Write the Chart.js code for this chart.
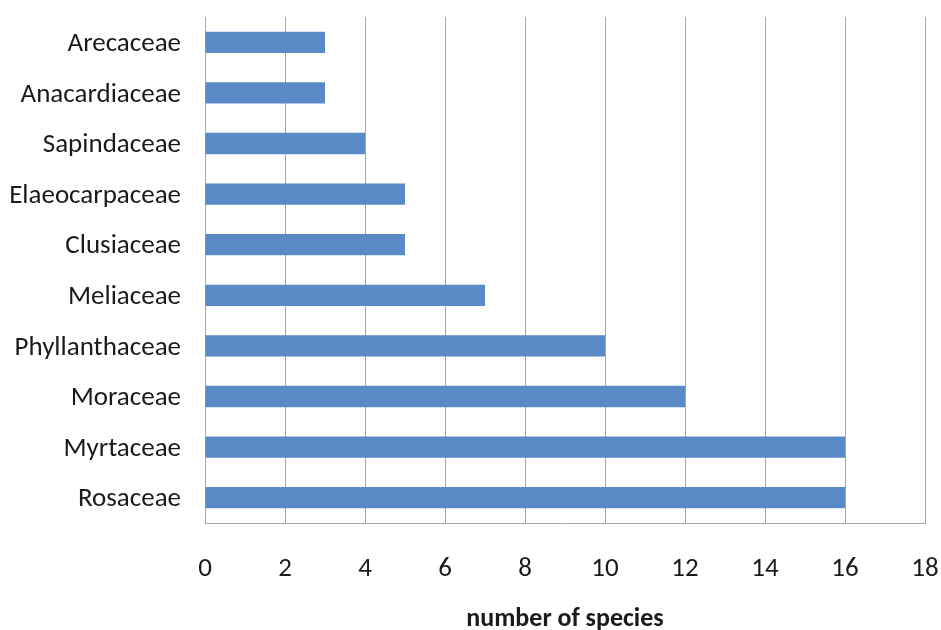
<!DOCTYPE html>
<html>
<head>
<meta charset="utf-8">
<script src="https://cdn.jsdelivr.net/npm/chart.js@4"></script>
<style>
html,body{margin:0;padding:0;background:#fff;}
#wrap{width:941px;height:630px;}
</style>
</head>
<body>
<div id="wrap"><canvas id="c" width="941" height="630"></canvas></div>
<script>
const categories = ["Arecaceae","Anacardiaceae","Sapindaceae","Elaeocarpaceae","Clusiaceae","Meliaceae","Phyllanthaceae","Moraceae","Myrtaceae","Rosaceae"];
const speciesCounts = [3,3,4,5,5,7,10,12,16,16];
const xTickMin = 0, xTickMax = 18, xTickStep = 2;
const xTitle = "number of species";

const FONT = "Carlito, Lato, sans-serif";
new Chart(document.getElementById('c'), {
  type: 'bar',
  data: {
    labels: categories,
    datasets: [{
      data: speciesCounts,
      backgroundColor: '#5A8AC6',
      borderWidth: 0,
      barPercentage: 0.42,
      categoryPercentage: 1.0
    }]
  },
  options: {
    indexAxis: 'y',
    responsive: false,
    animation: false,
    devicePixelRatio: 1,
    layout: { padding: { top: 17, right: 16, left: 0, bottom: 0 } },
    plugins: { legend: { display: false }, tooltip: { enabled: false } },
    scales: {
      x: {
        min: xTickMin, max: xTickMax,
        ticks: { stepSize: xTickStep, padding: 30, color: '#1a1a1a', font: { family: FONT, size: 27 } },
        grid: { color: '#A6A6A6', lineWidth: 1, drawTicks: false },
        border: { display: true, color: '#A6A6A6', width: 1 },
        title: { display: true, text: xTitle, color: '#1a1a1a', padding: { top: 0, bottom: -5 }, font: { family: FONT, size: 26, weight: 'bold' } },
        afterFit(s) { s.height = 107; s.paddingLeft = 0; s.paddingRight = 0; }
      },
      y: {
        ticks: { padding: 24, labelOffset: 2, color: '#1a1a1a', font: { family: FONT, size: 27 } },
        grid: { display: false, drawTicks: false },
        border: { display: true, color: '#A6A6A6', width: 1 },
        afterFit(s) { s.width = 205; s.paddingTop = 0; s.paddingBottom = 0; }
      }
    }
  }
});
</script>
</body>
</html>
